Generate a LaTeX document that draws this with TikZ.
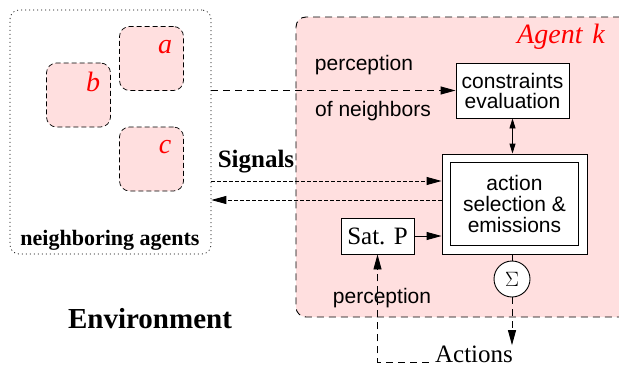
\documentclass[tikz,border=0pt]{standalone}
\usepackage{fontspec}
\setmainfont{Liberation Serif}
\setsansfont{Liberation Sans}
\usetikzlibrary{arrows.meta,positioning}
\definecolor{agentpink}{RGB}{255,223,223}

\begin{document}
\begin{tikzpicture}[x=1pt,y=-1pt,line width=0.9pt,
    every node/.style={inner sep=0pt},
    dashline/.style={dash pattern=on 7pt off 5pt},
    dotline/.style={dash pattern=on 3.5pt off 2.5pt},
    tip/.style={-{Triangle[length=15pt,width=8pt]}},
    nbbox/.style={draw,line width=0.7pt,dash pattern=on 1pt off 3pt,rounded corners=9pt},
    nbagent/.style={draw,fill=agentpink,line width=0.7pt,dash pattern=on 5pt off 3pt,rounded corners=10pt,minimum width=64,minimum height=64},
    plainbox/.style={draw,fill=white,align=center},
    redlbl/.style={text=red,font=\fontsize{28}{30}\selectfont\itshape},
    sanslbl/.style={font=\fontsize{21}{23}\selectfont\sffamily,align=center},
    boldlbl/.style={font=\bfseries}]
    \useasboundingbox (0,0) rectangle (619,367);
    % agent k
    \node[draw,fill=agentpink,dashline,rounded corners=10pt,minimum width=334,minimum height=300] (agentk) at (463,167) {};
    \node[redlbl] (kname) at (561,37) {Agent\hspace{0.35em}k};
    % environment and neighbors
    \node[nbbox,minimum width=201,minimum height=244] (nbhd) at (110.5,132) {};
    \node[nbagent] (na) at (151.5,58.5) {};
    \node[nbagent] (nb) at (78.5,95) {};
    \node[nbagent] (nc) at (151.5,159) {};
    \node[redlbl] (la) at (165,47) {a};
    \node[redlbl] (lb) at (93,82) {b};
    \node[redlbl] (lc) at (165,147) {c};
    \node[boldlbl,font=\fontsize{22}{24}\selectfont\bfseries] (nbname) at (110,240) {neighboring agents};
    \node[boldlbl,font=\fontsize{29}{31}\selectfont\bfseries] (env) at (150,319) {Environment};
    % boxes inside the agent
    \node[plainbox,sanslbl,minimum width=113,minimum height=55] (cons) at (512.5,90.5) {constraints\\[-3pt]evaluation};
    \node[plainbox,minimum width=145,minimum height=100] (act) at (514.5,204) {};
    \node[plainbox,sanslbl,minimum width=128,minimum height=83] (actin) at (act.center) {action\\[-2pt]selection \&\\[-2pt]emissions};
    \node[plainbox,font=\fontsize{25}{27}\selectfont,minimum width=73,minimum height=36] (satp) at (377.5,236) {Sat. P};
    \node[draw,fill=white,circle,minimum size=36] (sum) at (512,279) {\fontsize{20}{22}\selectfont$\Sigma$};
    \node[font=\fontsize{25}{27}\selectfont] (actions) at (474,354) {Actions};
    % labels
    \node[sanslbl] (percn) at (364,65) {perception};
    \node[sanslbl] (ofnb) at (373,111) {of neighbors};
    \node[boldlbl,font=\fontsize{25}{27}\selectfont\bfseries] (signals) at (256,162) {Signals};
    \node[sanslbl] (percs) at (382,298) {perception};
    % connectors
    \draw[dashline,tip] (nbhd.east |- cons.west) -- (cons.west);
    \draw[{Triangle[length=10pt,width=6pt]}-{Triangle[length=10pt,width=6pt]}] (cons.south) -- (cons.south |- act.north);
    \draw[dotline,tip] (nbhd.east |- 0,181) -- (act.west |- 0,181);
    \draw[dotline,tip] (act.west |- 0,200) -- (nbhd.east |- 0,200);
    \draw[tip] (satp.east) -- (act.west |- satp.east);
    \draw (act.south -| sum.north) -- (sum.north);
    \draw[dashline,tip] (sum.south) -- (sum.south |- actions.north);
    \draw[dashline,tip] ([xshift=-6pt]actions.base west) -- (satp.south |- actions.base) -- (satp.south);
\end{tikzpicture}
\end{document}
